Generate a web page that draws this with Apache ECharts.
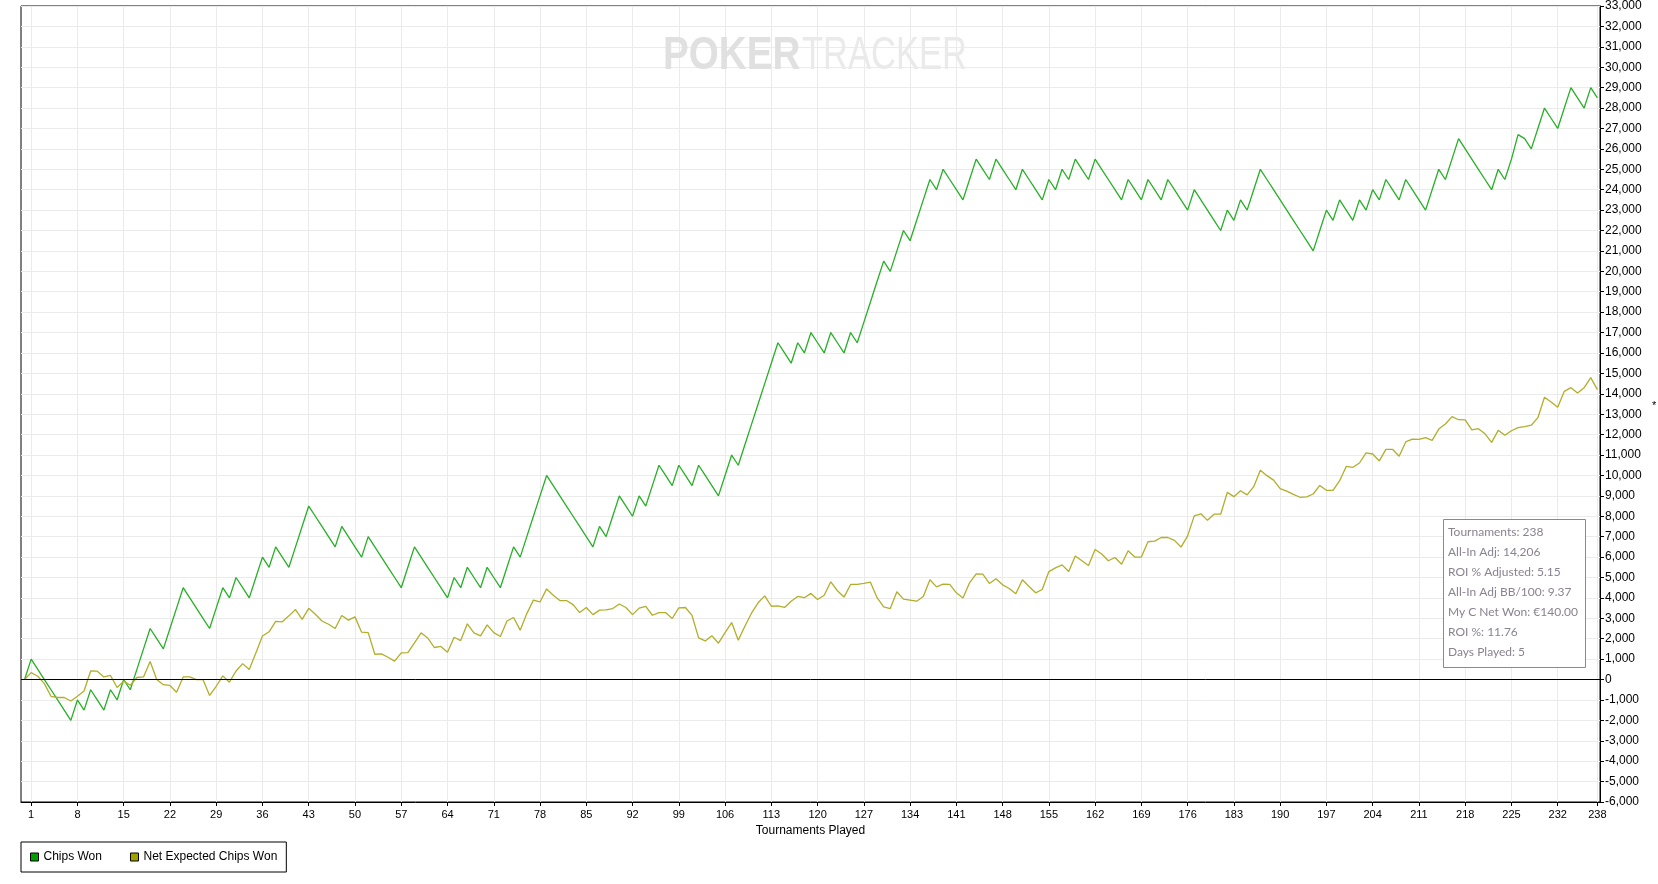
<!DOCTYPE html>
<html>
<head>
<meta charset="utf-8">
<title>Chips Won</title>
<script src="https://cdn.jsdelivr.net/npm/echarts@6.0.0/dist/echarts.min.js"></script>
<style>
    html, body { margin: 0; padding: 0; background: #fff; }
    #chart { width: 1658px; height: 884px; }
</style>
</head>
<body>
<div id="chart"></div>
<script>
// tournament 0 .. 238
let chipsWon = [
    0, 1000, 500, 0, -500, -1000, -1500, -2000, -1000, -1500,
    -500, -1000, -1500, -500, -1000, 0, -500, 500, 1500, 2500,
    2000, 1500, 2500, 3500, 4500, 4000, 3500, 3000, 2500, 3500,
    4500, 4000, 5000, 4500, 4000, 5000, 6000, 5500, 6500, 6000,
    5500, 6500, 7500, 8500, 8000, 7500, 7000, 6500, 7500, 7000,
    6500, 6000, 7000, 6500, 6000, 5500, 5000, 4500, 5500, 6500,
    6000, 5500, 5000, 4500, 4000, 5000, 4500, 5500, 5000, 4500,
    5500, 5000, 4500, 5500, 6500, 6000, 7000, 8000, 9000, 10000,
    9500, 9000, 8500, 8000, 7500, 7000, 6500, 7500, 7000, 8000,
    9000, 8500, 8000, 9000, 8500, 9500, 10500, 10000, 9500, 10500,
    10000, 9500, 10500, 10000, 9500, 9000, 10000, 11000, 10500, 11500,
    12500, 13500, 14500, 15500, 16500, 16000, 15500, 16500, 16000, 17000,
    16500, 16000, 17000, 16500, 16000, 17000, 16500, 17500, 18500, 19500,
    20500, 20000, 21000, 22000, 21500, 22500, 23500, 24500, 24000, 25000,
    24500, 24000, 23500, 24500, 25500, 25000, 24500, 25500, 25000, 24500,
    24000, 25000, 24500, 24000, 23500, 24500, 24000, 25000, 24500, 25500,
    25000, 24500, 25500, 25000, 24500, 24000, 23500, 24500, 24000, 23500,
    24500, 24000, 23500, 24500, 24000, 23500, 23000, 24000, 23500, 23000,
    22500, 22000, 23000, 22500, 23500, 23000, 24000, 25000, 24500, 24000,
    23500, 23000, 22500, 22000, 21500, 21000, 22000, 23000, 22500, 23500,
    23000, 22500, 23500, 23000, 24000, 23500, 24500, 24000, 23500, 24500,
    24000, 23500, 23000, 24000, 25000, 24500, 25500, 26500, 26000, 25500,
    25000, 24500, 24000, 25000, 24500, 25500, 26700, 26500, 26000, 27000,
    28000, 27500, 27000, 28000, 29000, 28500, 28000, 29000, 28500
];

let netExpected = [
    0, 340, 160, -200, -820, -880, -880, -1050, -820, -560,
    420, 410, 130, 200, -390, -80, -280, 100, 130, 880,
    0, -250, -290, -620, 130, 130, 0, 0, -780, -330,
    180, -130, 420, 780, 490, 1300, 2130, 2340, 2850, 2830,
    3120, 3430, 2950, 3490, 3200, 2870, 2710, 2500, 3140, 2910,
    3070, 2320, 2300, 1240, 1260, 1090, 900, 1310, 1320, 1800,
    2290, 2040, 1570, 1620, 1340, 2070, 1910, 2730, 2290, 2140,
    2680, 2300, 2110, 2870, 3040, 2420, 3230, 3890, 3800, 4440,
    4130, 3870, 3870, 3670, 3280, 3530, 3180, 3400, 3410, 3480,
    3700, 3530, 3180, 3500, 3580, 3150, 3280, 3280, 2990, 3510,
    3530, 3140, 2040, 1890, 2150, 1780, 2300, 2790, 1930, 2610,
    3250, 3760, 4100, 3590, 3610, 3530, 3840, 4070, 4010, 4220,
    3920, 4130, 4790, 4350, 4040, 4660, 4660, 4710, 4770, 4010,
    3560, 3480, 4300, 3940, 3890, 3840, 4070, 4890, 4540, 4670,
    4660, 4250, 3990, 4740, 5180, 5160, 4710, 4940, 4640, 4460,
    4200, 4890, 4560, 4250, 4410, 5290, 5470, 5620, 5290, 6050,
    5820, 5590, 6370, 6150, 5820, 5980, 5650, 6310, 6000, 6000,
    6750, 6780, 6960, 6960, 6820, 6490, 7040, 8020, 8120, 7800,
    8100, 8100, 9170, 8960, 9250, 9050, 9450, 10250, 9990, 9770,
    9350, 9230, 9070, 8930, 8950, 9090, 9510, 9270, 9270, 9740,
    10440, 10400, 10610, 11110, 11050, 10710, 11280, 11280, 10940, 11640,
    11780, 11770, 11850, 11720, 12270, 12520, 12880, 12730, 12720, 12230,
    12290, 12040, 11620, 12210, 11970, 12190, 12340, 12390, 12460, 12830,
    13830, 13600, 13340, 14120, 14300, 14040, 14300, 14790, 14206
];

let xTicks = [1, 8, 15, 22, 29, 36, 43, 50, 57, 64, 71, 78, 85, 92, 99, 106, 113, 120,
    127, 134, 141, 148, 155, 162, 169, 176, 183, 190, 197, 204, 211, 218, 225, 232, 238];

let statLines = [
    'Tournaments: 238',
    'All-In Adj: 14,206',
    'ROI % Adjusted: 5.15',
    'All-In Adj BB/100: 9.37',
    'My C Net Won: €140.00',
    'ROI %: 11.76',
    'Days Played: 5'
];

var myChart = echarts.init(document.getElementById('chart'));

let option = {
    animation: false,
    backgroundColor: '#fff',
    textStyle: { fontFamily: 'Liberation Sans' },
    grid: {
        left: 21, right: 58, top: 6, bottom: 82,
        show: true,
        borderColor: '#000',
        borderWidth: 1
    },
    legend: {
        left: 21,
        top: 842,
        itemWidth: 8,
        itemHeight: 8,
        itemGap: 28,
        padding: [9, 9, 9, 9],
        borderColor: '#000',
        borderWidth: 1,
        textStyle: { fontSize: 12, color: '#000', fontFamily: 'Liberation Sans' },
        itemStyle: { borderColor: '#000', borderWidth: 1 },
        data: [
            { name: 'Chips Won', icon: 'rect', itemStyle: { color: '#00a000' } },
            { name: 'Net Expected Chips Won', icon: 'rect', itemStyle: { color: '#a0a000' } }
        ]
    },
    xAxis: {
        type: 'value',
        min: -0.54,
        max: 238.4,
        name: 'Tournaments Played',
        nameLocation: 'middle',
        nameGap: 23,
        nameTextStyle: { fontSize: 12, color: '#000' },
        axisLine: { show: true, onZero: false, lineStyle: { color: '#000', width: 1 } },
        axisTick: { show: true, length: 4, customValues: xTicks, lineStyle: { color: '#000' } },
        axisLabel: { customValues: xTicks, fontSize: 11, color: '#000', margin: 7 },
        splitLine: { show: true, lineStyle: { color: '#ebebeb', width: 1 } }
    },
    yAxis: {
        type: 'value',
        position: 'right',
        min: -6000,
        max: 33000,
        interval: 1000,
        axisLine: { show: true, onZero: false, lineStyle: { color: '#000', width: 1 } },
        axisTick: { show: true, length: 4, lineStyle: { color: '#000' } },
        axisLabel: {
            fontSize: 12,
            color: '#000',
            margin: 5,
            formatter: function (v) { return v.toLocaleString('en-US'); }
        },
        splitLine: { show: true, lineStyle: { color: '#ebebeb', width: 1 } }
    },
    graphic: [
        // watermark
        {
            type: 'text', x: 663, y: 56, scaleX: 0.84, z: 1, silent: true,
            style: { text: 'POKER', font: 'bold 46px "Liberation Sans"', fill: '#e0e0e0', verticalAlign: 'middle' }
        },
        {
            type: 'text', x: 802, y: 56, scaleX: 0.75, z: 1, silent: true,
            style: { text: 'TRACKER', font: '46px "Liberation Sans"', fill: '#eaeaea', verticalAlign: 'middle' }
        },
        // stats box
        {
            type: 'rect', z: 10,
            shape: { x: 1443.5, y: 519.5, width: 142, height: 148 },
            style: { fill: '#fff', stroke: '#8a8a8a', lineWidth: 1 }
        },
        {
            type: 'text', x: 1448, y: 522, z: 11,
            style: {
                text: statLines.join('\n'),
                font: '12px Lato',
                fill: '#8a8290',
                lineHeight: 20,
                verticalAlign: 'top'
            }
        },
        {
            type: 'text', x: 1652, y: 400, z: 11,
            style: { text: '*', font: '11px "Liberation Sans"', fill: '#000' }
        }
    ],
    series: [
        {
            name: 'Chips Won',
            type: 'line',
            showSymbol: false,
            color: '#27b027',
            lineStyle: { width: 1.3, color: '#27b027' },
            data: chipsWon.map((v, i) => [i, v]),
            z: 3
        },
        {
            name: 'Net Expected Chips Won',
            type: 'line',
            showSymbol: false,
            color: '#b2ae2a',
            lineStyle: { width: 1.3, color: '#b2ae2a' },
            data: netExpected.map((v, i) => [i, v]),
            z: 3,
            markLine: {
                silent: true,
                symbol: 'none',
                label: { show: false },
                lineStyle: { color: '#000', width: 1, type: 'solid' },
                data: [{ yAxis: 0 }]
            }
        }
    ]
};

myChart.setOption(option);
</script>
</body>
</html>
